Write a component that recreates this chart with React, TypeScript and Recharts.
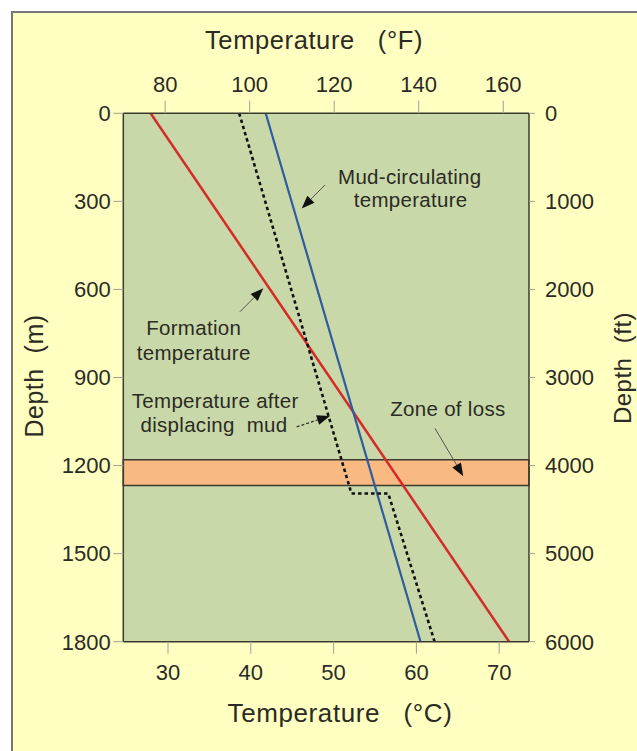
import React from "react";
import {
  ComposedChart,
  Line,
  XAxis,
  YAxis,
  ReferenceArea,
  ReferenceLine,
  ReferenceDot,
} from "recharts";

// ---- data ----
const celsiusTicks = [30, 40, 50, 60, 70];
const fahrenheitTicks = [80, 100, 120, 140, 160];
const depthMTicks = [0, 300, 600, 900, 1200, 1500, 1800];
const depthFtTicks = [0, 1000, 2000, 3000, 4000, 5000, 6000];

const formationTemp = [
  { t: 27.9, d: 0 },
  { t: 71.2, d: 1800 },
];
const mudCirculatingTemp = [
  { t: 41.8, d: 0 },
  { t: 60.5, d: 1800 },
];
const afterDisplacingTemp = [
  { t: 38.6, d: 0 },
  { t: 52.15, d: 1295 },
  { t: 56.6, d: 1295 },
  { t: 62.2, d: 1800 },
];
const zoneOfLoss = [1180, 1268];

// annotation texts: [text, t, d]
const annotationTexts: [string, number, number][] = [
  ["Mud-circulating", 59.2, 216],
  ["temperature", 59.3, 295],
  ["Formation", 33.1, 731],
  ["temperature", 33.1, 816],
  ["Temperature after", 35.7, 977],
  ["displacing\u00A0\u00A0mud", 35.55, 1059],
  ["Zone of loss", 63.8, 1005],
];

// arrows: [fromT, fromD, tipT, tipD, dashed]
const arrows: [number, number, number, number, boolean][] = [
  [48.96, 244, 46.15, 324, false],
  [38.69, 676, 41.51, 596, false],
  [45.54, 1068, 49.56, 1031, true],
  [62.24, 1073, 65.66, 1236, false],
];

// scale helper for the °F axis (axis only, drawn invisibly)
const fahrenheitAxisData = fahrenheitTicks.map((t) => ({ t, d: 0 }));

const FONT = "'Liberation Sans', Arial, sans-serif";
const TXT = "#2b2b25";

const ArrowShape = (dashed: boolean) => (p: any) => {
  const { x1, y1, x2, y2 } = p;
  const dx = x2 - x1;
  const dy = y2 - y1;
  const len = Math.sqrt(dx * dx + dy * dy) || 1;
  const ux = dx / len;
  const uy = dy / len;
  const hl = 13;
  const hw = 5;
  const bx = x2 - ux * hl;
  const by = y2 - uy * hl;
  const pts = `${x2},${y2} ${bx - uy * hw},${by + ux * hw} ${bx + uy * hw},${by - ux * hw}`;
  return (
    <g>
      <line
        x1={x1}
        y1={y1}
        x2={bx}
        y2={by}
        stroke={dashed ? "#333" : "#555"}
        strokeWidth={dashed ? 1.3 : 1}
        strokeDasharray={dashed ? "3 2" : undefined}
      />
      <polygon points={pts} fill="#111" />
    </g>
  );
};

const textShape = (txt: string) => (p: any) => (
  <text
    x={p.cx}
    y={p.cy}
    textAnchor="middle"
    dominantBaseline="central"
    fontFamily={FONT}
    fontSize={20.5}
    letterSpacing={0.3}
    fill={TXT}
  >
    {txt}
  </text>
);

const tickStyle = { fontFamily: FONT, fontSize: 22, fill: TXT };

export default function App() {
  return (
    <div style={{ position: "absolute", left: 0, top: 0, width: 637, height: 751, overflow: "hidden", background: "#fff" }}>
      <div
        style={{
          position: "absolute",
          left: 11,
          top: 11,
          width: 660,
          height: 780,
          border: "2px solid #767676",
          background: "#ffffc2",
        }}
      />
      <div style={{ position: "absolute", left: 0, top: 0 }}>
        <ComposedChart width={637} height={751} margin={{ top: 0, right: 0, bottom: 0, left: 0 }}>
          <XAxis
            xAxisId="c"
            dataKey="t"
            type="number"
            orientation="bottom"
            domain={[24.6, 73.6]}
            allowDataOverflow
            ticks={celsiusTicks}
            height={109.3}
            tickSize={12}
            tickMargin={11}
            tick={tickStyle}
            axisLine={{ stroke: "#3a3a30", strokeWidth: 1.5 }}
            tickLine={{ stroke: "#a0a090", strokeWidth: 1 }}
            label={{
              content: () => (
                <text x={340} y={722} textAnchor="middle" fontFamily={FONT} fontSize={26} letterSpacing={0.6} fill={TXT}>
                  {"Temperature\u00A0\u00A0\u00A0(°C)"}
                </text>
              ),
            }}
          />
          <XAxis
            xAxisId="f"
            dataKey="t"
            type="number"
            orientation="top"
            domain={[70.1, 166.1]}
            allowDataOverflow
            ticks={fahrenheitTicks}
            height={113.3}
            tickSize={12.6}
            tickMargin={9}
            tick={tickStyle}
            axisLine={{ stroke: "#3a3a30", strokeWidth: 1.5 }}
            tickLine={{ stroke: "#a0a090", strokeWidth: 1 }}
            label={{
              content: () => (
                <text x={314} y={48.5} textAnchor="middle" fontFamily={FONT} fontSize={25.5} letterSpacing={0.6} fill={TXT}>
                  {"Temperature\u00A0\u00A0\u00A0(°F)"}
                </text>
              ),
            }}
          />
          <YAxis
            yAxisId="m"
            type="number"
            orientation="left"
            reversed
            domain={[0, 1800]}
            allowDataOverflow
            ticks={depthMTicks}
            width={123.3}
            tickSize={10}
            tickMargin={2.5}
            tick={tickStyle}
            axisLine={{ stroke: "#3a3a30", strokeWidth: 1.5 }}
            tickLine={{ stroke: "#a0a090", strokeWidth: 1 }}
            label={{
              content: () => (
                <text
                  x={43}
                  y={376}
                  transform="rotate(-90, 43, 376)"
                  textAnchor="middle"
                  fontFamily={FONT}
                  fontSize={25}
                  letterSpacing={0.5}
                  fill={TXT}
                >
                  {"Depth\u00A0\u00A0(m)"}
                </text>
              ),
            }}
          />
          <YAxis
            yAxisId="ft"
            type="number"
            orientation="right"
            reversed
            domain={[0, 6000]}
            allowDataOverflow
            ticks={depthFtTicks}
            width={108}
            tickSize={6}
            tickMargin={10}
            tick={tickStyle}
            axisLine={{ stroke: "#3a3a30", strokeWidth: 1.5 }}
            tickLine={{ stroke: "#a0a090", strokeWidth: 1 }}
            label={{
              content: () => (
                <text
                  x={630.5}
                  y={368}
                  transform="rotate(-90, 630.5, 368)"
                  textAnchor="middle"
                  fontFamily={FONT}
                  fontSize={24}
                  letterSpacing={0.5}
                  fill={TXT}
                >
                  {"Depth\u00A0\u00A0(ft)"}
                </text>
              ),
            }}
          />

          <ReferenceArea
            xAxisId="c"
            yAxisId="m"
            x1={24.6}
            x2={73.6}
            y1={0}
            y2={1800}
            fill="#c9d8a8"
            fillOpacity={1}
            stroke="none"
          />
          <ReferenceArea
            xAxisId="c"
            yAxisId="m"
            x1={24.6}
            x2={73.6}
            y1={zoneOfLoss[0]}
            y2={zoneOfLoss[1]}
            fill="#f9b982"
            fillOpacity={1}
            stroke="#3a3a30"
            strokeWidth={1.5}
          />

          <Line
            xAxisId="f"
            yAxisId="ft"
            data={fahrenheitAxisData}
            dataKey="d"
            stroke="none"
            dot={false}
            activeDot={false}
            legendType="none"
            isAnimationActive={false}
          />

          <Line
            xAxisId="c"
            yAxisId="m"
            data={formationTemp}
            dataKey="d"
            type="linear"
            stroke="#d42a28"
            strokeWidth={2.5}
            dot={false}
            isAnimationActive={false}
          />
          <Line
            xAxisId="c"
            yAxisId="m"
            data={mudCirculatingTemp}
            dataKey="d"
            type="linear"
            stroke="#2f5c9e"
            strokeWidth={2.2}
            dot={false}
            isAnimationActive={false}
          />
          <Line
            xAxisId="c"
            yAxisId="m"
            data={afterDisplacingTemp}
            dataKey="d"
            type="linear"
            stroke="#111"
            strokeWidth={2.6}
            strokeDasharray="3.5 3"
            dot={false}
            isAnimationActive={false}
          />

          {arrows.map((a, i) => (
            <ReferenceLine
              key={"ar" + i}
              xAxisId="c"
              yAxisId="m"
              segment={[
                { x: a[0], y: a[1] },
                { x: a[2], y: a[3] },
              ]}
              shape={ArrowShape(a[4])}
            />
          ))}
          {annotationTexts.map((a, i) => (
            <ReferenceDot
              key={"tx" + i}
              xAxisId="c"
              yAxisId="m"
              x={a[1]}
              y={a[2]}
              r={1}
              shape={textShape(a[0])}
            />
          ))}
        </ComposedChart>
      </div>
    </div>
  );
}
